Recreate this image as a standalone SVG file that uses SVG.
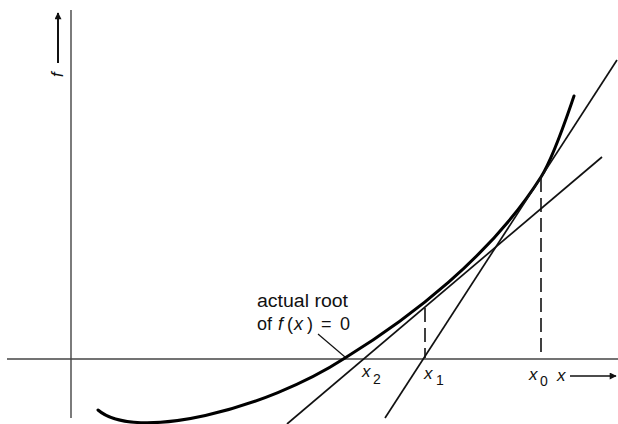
<svg xmlns="http://www.w3.org/2000/svg" width="618" height="424" viewBox="0 0 618 424">
<style>
.axis{stroke:#444;stroke-width:1.4;fill:none}
.curve{stroke:#000;stroke-width:3;fill:none;stroke-linecap:round}
.tan{stroke:#111;stroke-width:1.7;fill:none}
.dash{stroke:#111;stroke-width:1.6;stroke-dasharray:14 6;fill:none}
.lbl{font-family:"Liberation Sans",Arial,sans-serif;font-size:17px;fill:#111}
.root{font-family:"Liberation Sans",Arial,sans-serif;font-size:18px;fill:#111}
.sub{font-family:"Liberation Sans",Arial,sans-serif;font-size:14px;fill:#111}
.it{font-style:italic}
</style>
<defs>
<marker id="ah" viewBox="0 0 10 10" refX="9" refY="5" markerWidth="9" markerHeight="7" markerUnits="userSpaceOnUse" orient="auto">
<path d="M0,0 L10,5 L0,10 z" fill="#111"/>
</marker>
</defs>
<g id="axes">
<line class="axis" x1="7" y1="359" x2="618" y2="359"/>
<line class="axis" x1="71" y1="10" x2="71" y2="418"/>
</g>
<g id="f-label">
<line x1="58" y1="63" x2="58" y2="13" stroke="#111" stroke-width="2" marker-end="url(#ah)"/>
<text class="lbl it" transform="translate(63,77) rotate(-90)">f</text>
</g>
<g id="curve">
<path class="curve" d="M98,410 C135,442 265,410 345,358 C410,318 491,256 541,177 C554,156 566,119 574,96"/>
</g>
<g id="connectors">
<line class="tan" x1="617" y1="60" x2="385" y2="418"/>
<line class="tan" x1="602" y1="157" x2="287" y2="424"/>
<line class="dash" x1="541" y1="178" x2="541" y2="358"/>
<line class="dash" x1="425" y1="308" x2="425" y2="358"/>
<line stroke="#111" stroke-width="1.2" x1="318" y1="334" x2="345" y2="357"/>
<line x1="570" y1="376" x2="616" y2="376" stroke="#111" stroke-width="1.5" marker-end="url(#ah)"/>
</g>
<g id="root-label">
<text class="root" x="257" y="307" textLength="91" lengthAdjust="spacingAndGlyphs">actual root</text>
<text class="root" y="330"><tspan x="257">of</tspan><tspan class="it" x="278">f</tspan><tspan x="287">(</tspan><tspan class="it" x="294">x</tspan><tspan x="307">)</tspan><tspan x="321">=</tspan><tspan x="340">0</tspan></text>
</g>
<g id="x2">
<text class="lbl it" x="362" y="377">x</text><text class="sub" x="373" y="384">2</text>
</g>
<g id="x1">
<text class="lbl it" x="424" y="379">x</text><text class="sub" x="436" y="385">1</text>
</g>
<g id="x0">
<text class="lbl it" x="529" y="380">x</text><text class="sub" x="540" y="386">0</text>
</g>
<g id="x-axis-label">
<text class="lbl it" x="557" y="381">x</text>
</g>
</svg>
